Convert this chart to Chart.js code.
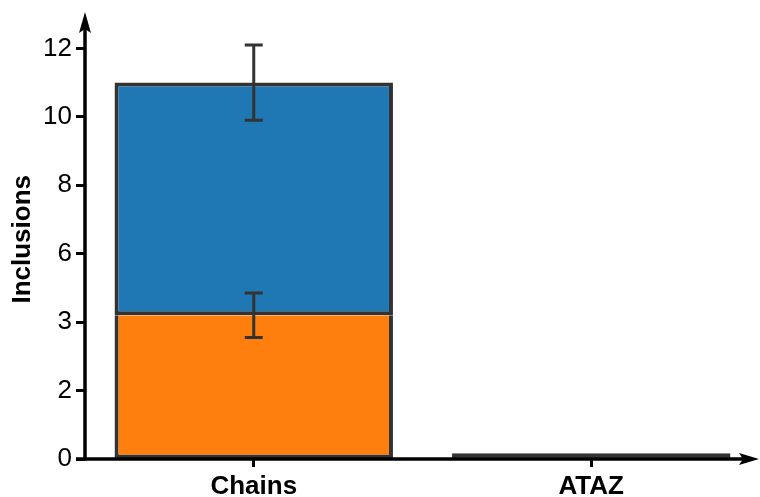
<!DOCTYPE html>
<html>
<head>
<meta charset="utf-8">
<script src="https://cdn.jsdelivr.net/npm/chart.js@4/dist/chart.umd.min.js"></script>
<style>
  html, body { margin: 0; padding: 0; background: #fff; }
  #wrap { width: 760px; height: 497px; }
</style>
</head>
<body>
<div id="wrap"><canvas id="c"></canvas></div>
<script>
// Categories and stacked series
const categories = ['Chains', 'ATAZ'];
const lowerValues = [4.2, 0.06];   // orange segment
const upperValues = [6.8, 0.11];   // blue segment stacked on top
const lowerErrors = [0.65, 0];
const upperErrors = [1.1, 0];

// Y axis tick positions and their printed labels
const yTickValues = [0, 2, 4, 6, 8, 10, 12];
const yTickLabels = ['0', '2', '3', '6', '8', '10', '12'];

const EDGE = '#333333';
const AXIS = '#000000';
const FONT = "'Liberation Sans', Arial, sans-serif";

// Very short bars read as solid outline colour
function fillFor(color) {
  return (ctx) => {
    const v = ctx.chart.data.datasets[0].data[ctx.dataIndex] +
              ctx.chart.data.datasets[1].data[ctx.dataIndex];
    return v < 0.5 ? EDGE : color;
  };
}

// Error bars drawn at the top of each stacked segment
const errorBars = {
  id: 'errorBars',
  afterDatasetsDraw(chart) {
    const ctx = chart.ctx;
    const y = chart.scales.y;
    const errs = [lowerErrors, upperErrors];
    ctx.save();
    ctx.strokeStyle = EDGE;
    ctx.lineWidth = 3;
    chart.data.datasets.forEach((ds, di) => {
      const meta = chart.getDatasetMeta(di);
      meta.data.forEach((bar, j) => {
        const e = errs[di][j];
        if (!e) return;
        let top = 0;
        for (let k = 0; k <= di; k++) top += chart.data.datasets[k].data[j];
        const yHi = y.getPixelForValue(top + e);
        const yLo = y.getPixelForValue(top - e);
        const x = bar.x;
        const cap = 9;
        ctx.beginPath();
        ctx.moveTo(x, yHi); ctx.lineTo(x, yLo);
        ctx.moveTo(x - cap, yHi); ctx.lineTo(x + cap, yHi);
        ctx.moveTo(x - cap, yLo); ctx.lineTo(x + cap, yLo);
        ctx.stroke();
      });
    });
    ctx.restore();
  }
};

// Axis lines with arrowheads
const arrowAxes = {
  id: 'arrowAxes',
  afterDraw(chart) {
    const ctx = chart.ctx;
    const a = chart.chartArea;
    const x0 = a.left, y0 = a.bottom;
    ctx.save();
    ctx.strokeStyle = AXIS;
    ctx.fillStyle = AXIS;
    ctx.lineWidth = 3.5;
    // vertical axis
    ctx.beginPath();
    ctx.moveTo(x0, y0 + 1.5);
    ctx.lineTo(x0, 24);
    ctx.stroke();
    ctx.beginPath();
    ctx.moveTo(x0, 12);
    ctx.lineTo(x0 - 6, 33);
    ctx.lineTo(x0, 29);
    ctx.lineTo(x0 + 6, 33);
    ctx.closePath();
    ctx.fill();
    // horizontal axis
    ctx.beginPath();
    ctx.moveTo(x0 - 9, y0);
    ctx.lineTo(750, y0);
    ctx.stroke();
    ctx.beginPath();
    ctx.moveTo(759, y0);
    ctx.lineTo(739, y0 - 6);
    ctx.lineTo(743, y0);
    ctx.lineTo(739, y0 + 6);
    ctx.closePath();
    ctx.fill();
    ctx.restore();
  }
};

new Chart(document.getElementById('c'), {
  type: 'bar',
  data: {
    labels: categories,
    datasets: [
      {
        data: lowerValues,
        backgroundColor: fillFor('#ff7f0e'),
        borderColor: EDGE,
        borderWidth: 4,
        borderSkipped: 'top'
      },
      {
        data: upperValues,
        backgroundColor: fillFor('#1f77b4'),
        borderColor: EDGE,
        borderWidth: 4,
        borderSkipped: false
      }
    ]
  },
  options: {
    responsive: true,
    maintainAspectRatio: false,
    animation: false,
    devicePixelRatio: 1,
    layout: { padding: { top: 0, right: 0, bottom: 0, left: 0 } },
    plugins: {
      legend: { display: false },
      tooltip: { enabled: false }
    },
    datasets: {
      bar: { categoryPercentage: 1.0, barPercentage: 0.825, inflateAmount: 0 }
    },
    scales: {
      x: {
        stacked: true,
        offset: true,
        border: { display: false },
        grid: {
          offset: false,
          drawOnChartArea: false,
          drawTicks: true,
          tickLength: 8,
          tickWidth: 3,
          tickColor: AXIS
        },
        ticks: {
          color: '#000',
          padding: 7,
          font: { family: FONT, size: 26, weight: 'bold', lineHeight: 1 }
        },
        afterFit(s) { s.height = 38; }
      },
      y: {
        stacked: true,
        min: 0,
        max: 12.84,
        border: { display: false },
        grid: {
          drawOnChartArea: false,
          drawTicks: true,
          tickLength: 9,
          tickWidth: 3,
          tickColor: AXIS
        },
        afterBuildTicks(s) { s.ticks = yTickValues.map(v => ({ value: v })); },
        ticks: {
          color: '#000',
          padding: 4,
          font: { family: FONT, size: 26 },
          callback(value) {
            const i = yTickValues.indexOf(value);
            return i >= 0 ? yTickLabels[i] : '';
          }
        },
        title: {
          display: true,
          text: 'Inclusions',
          color: '#000',
          padding: { top: 7, bottom: 0 },
          font: { family: FONT, size: 26, weight: 'bold', lineHeight: 1.2 }
        },
        afterFit(s) { s.width = 85; }
      }
    }
  },
  plugins: [errorBars, arrowAxes]
});
</script>
</body>
</html>
